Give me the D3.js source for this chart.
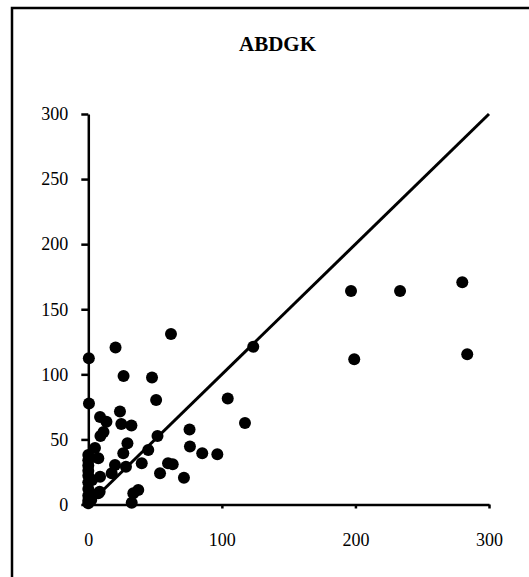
<!DOCTYPE html>
<html>
<head>
<meta charset="utf-8">
<script src="https://cdn.jsdelivr.net/npm/d3@7"></script>
<style>
  html, body { margin: 0; padding: 0; background: #fff; }
  svg { display: block; }
  text { font-family: "Liberation Serif", "Times New Roman", serif; fill: #000; }
</style>
</head>
<body>
<svg id="chart" width="529" height="577"></svg>
<script>
// Observed (x) and estimated (y) values
const xValues = [196.7, 233.4, 280.0, 123.5, 199.1, 283.7, 104.4, 117.3, 61.9, 20.4,
  0.4, 26.4, 47.7, 0.5, 50.8, 8.8, 13.6, 23.7, 24.7, 32.3,
  11.4, 9.1, 51.8, 75.8, 76.1, 85.3, 96.6, 63.2, 71.6, 29.3,
  26.2, 44.9, 7.5, 8.8, 20.0, 40.0, 28.2, 53.7, 37.4, 33.7,
  32.5, 7.5, 0.0, 17.5, 0.0, 0.0, 0.0, 0.0, 0.0, 0.0,
  0.0, 0.0, 0.0, 2.2, 5.0, 8.5, 59.7, 2.8];
const yValues = [164.0, 164.0, 170.7, 121.2, 111.5, 115.4, 81.4, 62.6, 131.0, 120.6,
  112.3, 98.7, 97.6, 77.6, 80.3, 67.2, 63.6, 71.4, 61.8, 60.7,
  55.7, 52.6, 52.6, 57.6, 44.6, 39.3, 38.6, 30.9, 20.6, 47.0,
  39.3, 41.9, 35.5, 21.4, 30.3, 31.7, 29.0, 24.0, 11.1, 8.6,
  1.4, 8.6, 0.9, 24.0, 38.0, 34.0, 30.0, 26.0, 22.0, 17.0,
  12.0, 7.0, 3.0, 3.5, 43.4, 9.8, 31.7, 18.8];
const xTicks = [0, 100, 200, 300];
const yTicks = [0, 50, 100, 150, 200, 250, 300];
const identityLine = [[0, 0], [300, 300]];
const title = "ABDGK";

const svg = d3.select("#chart");

// outer frame
svg.append("rect")
  .attr("x", 12).attr("y", 8)
  .attr("width", 540).attr("height", 590)
  .attr("fill", "none").attr("stroke", "#000").attr("stroke-width", 2.5);

svg.append("text")
  .attr("x", 277.5).attr("y", 50.5)
  .attr("text-anchor", "middle")
  .attr("font-size", 21).attr("font-weight", "bold")
  .text(title);

const x = d3.scaleLinear().domain([0, 300]).range([88.3, 489]);
const y = d3.scaleLinear().domain([0, 300]).range([504.5, 114]);

const yAxis = svg.append("g")
  .attr("transform", `translate(${x(0)},0)`)
  .call(d3.axisLeft(y).tickValues(yTicks).tickSize(7).tickSizeOuter(0).tickPadding(13));

const xAxis = svg.append("g")
  .attr("transform", `translate(0,${y(0)})`)
  .call(d3.axisBottom(x).tickValues(xTicks).tickSize(4).tickSizeOuter(0).tickPadding(25));

[xAxis, yAxis].forEach(g => {
  g.select(".domain").attr("stroke", "#000").attr("stroke-width", 2.5);
  g.selectAll(".tick line").attr("stroke", "#000").attr("stroke-width", 2.5);
  g.selectAll(".tick text")
    .attr("font-family", "'Liberation Serif', 'Times New Roman', serif")
    .attr("font-size", 18).attr("fill", "#000");
});

// y = x reference line
svg.append("path")
  .attr("d", d3.line().x(d => x(d[0])).y(d => y(d[1]))(identityLine))
  .attr("fill", "none").attr("stroke", "#000").attr("stroke-width", 3);

// scatter markers
svg.append("g").selectAll("circle")
  .data(xValues.map((v, i) => [v, yValues[i]]))
  .join("circle")
  .attr("cx", d => x(d[0]))
  .attr("cy", d => y(d[1]))
  .attr("r", 6)
  .attr("fill", "#000");
</script>
</body>
</html>
